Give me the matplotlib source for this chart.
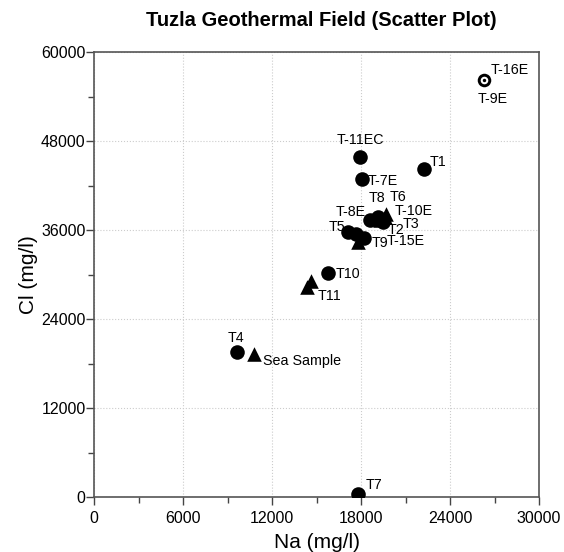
import matplotlib
matplotlib.use("Agg")
import matplotlib.pyplot as plt
from matplotlib.ticker import MultipleLocator

plt.rcParams['font.family'] = ['Liberation Sans', 'DejaVu Sans']

# Filled circle samples: name, Na (mg/l), Cl (mg/l)
circle_names = ["T1", "T-11EC", "T-7E", "T-8E", "T8", "T2", "T5", "T-15E", "T9", "T10", "T4", "T7"]
circle_na = [22250, 17930, 18070, 18600, 19150, 19450, 17120, 17650, 18200, 15780, 9640, 17800]
circle_cl = [44200, 45850, 42900, 37350, 37700, 37100, 35700, 35450, 34900, 30200, 19550, 400]

# Triangle samples
tri_names = ["T6", "T-10E", "T3", "T11", "", "Sea Sample", ""]
tri_na = [19700, 19600, 19300, 14600, 14350, 10790, 17800]
tri_cl = [38200, 37800, 37300, 29100, 28300, 19300, 34400]

# Ring-marker samples (overlapping)
ring_names = ["T-16E", "T-9E"]
ring_na = [26300, 26300]
ring_cl = [56200, 56200]

# label offsets in pixels (dx, dy, ha)
offsets = {
    "T1": (6, 7, "left"), "T-11EC": (0, 17, "center"), "T-7E": (6, -2, "left"),
    "T-8E": (-4, 8, "right"), "T8": (-1, 19, "center"), "T2": (5, -8, "left"),
    "T5": (-3, 5, "right"), "T-15E": (31, -7, "left"), "T9": (8, -5, "left"),
    "T10": (8, -1, "left"), "T4": (-1, 14, "center"), "T7": (8, 9, "left"),
    "T6": (12, 17, "center"), "T-10E": (10, 6, "left"), "T3": (22, -4, "left"),
    "T11": (7, -15, "left"), "Sea Sample": (9, -7, "left"),
    "T-16E": (6, 10, "left"), "T-9E": (9, -19, "center"),
}

fig = plt.figure(figsize=(5.64, 5.52), dpi=100)
ax = fig.add_axes([0.1667, 0.0996, 0.7890, 0.8062])

ax.scatter(tri_na, tri_cl, marker="^", s=110, color="black", zorder=3, linewidths=0)
ax.scatter(circle_na, circle_cl, marker="o", s=110, color="black", zorder=4, linewidths=0)
ax.scatter(ring_na[:1], ring_cl[:1], marker="o", s=95, color="black", zorder=4, linewidths=0)
ax.scatter(ring_na[:1], ring_cl[:1], marker="o", s=30, color="white", zorder=5, linewidths=0)
ax.scatter(ring_na[:1], ring_cl[:1], marker="o", s=6, color="black", zorder=6, linewidths=0)

for names, xs, ys in [(circle_names, circle_na, circle_cl),
                      (tri_names, tri_na, tri_cl),
                      (ring_names, ring_na, ring_cl)]:
    for n, x, y in zip(names, xs, ys):
        if not n:
            continue
        dx, dy, ha = offsets[n]
        ax.annotate(n, (x, y), xytext=(dx, dy), textcoords="offset pixels",
                    ha=ha, va="center", fontsize=10.3, color="black", zorder=7)

ax.set_xlim(0, 30000)
ax.set_ylim(0, 60000)
ax.xaxis.set_major_locator(MultipleLocator(6000))
ax.xaxis.set_minor_locator(MultipleLocator(3000))
ax.yaxis.set_major_locator(MultipleLocator(12000))
ax.yaxis.set_minor_locator(MultipleLocator(6000))
ax.tick_params(which="major", direction="out", length=6, width=1, color="#444444",
               labelsize=11.5)
ax.tick_params(axis="x", which="major", pad=4)
ax.tick_params(axis="y", which="major", pad=0)
ax.tick_params(which="minor", direction="out", length=4, width=1, color="#444444")
ax.grid(True, which="major", linestyle=":", color="#cccccc", linewidth=0.8)
ax.set_axisbelow(True)
for sp in ax.spines.values():
    sp.set_color("#555555")
    sp.set_linewidth(1.2)

ax.set_xlabel("Na (mg/l)", fontsize=15, labelpad=5)
ax.set_ylabel("Cl (mg/l)", fontsize=15, labelpad=2.5)
fig.suptitle("Tuzla Geothermal Field (Scatter Plot)", fontsize=14.5, fontweight="bold",
             x=0.569, y=0.98)

fig.savefig("out.png", dpi=100)
